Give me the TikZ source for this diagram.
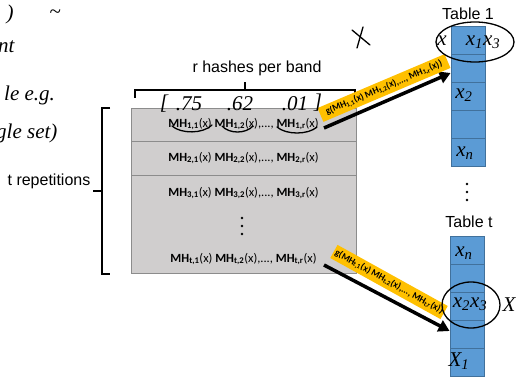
\documentclass[tikz,border=0pt]{standalone}
\usepackage{fontspec}
\setmainfont{Liberation Sans}
\newfontfamily\calibri{Carlito}
\newfontfamily\handfont{Liberation Serif}
\usetikzlibrary{arrows.meta}

\definecolor{bandgray}{HTML}{D0CECE}
\definecolor{bandedge}{HTML}{8C8C8C}
\definecolor{cellblue}{HTML}{5B9BD5}
\definecolor{celledge}{HTML}{41719C}
\definecolor{bannergold}{HTML}{FFC000}

% one min-hash term and one full band of r terms
\newcommand\mhterm[1]{\textbf{MH}\textsubscript{\textbf{#1}}(x)}
\newcommand\mhrow[1]{\mhterm{#1,1} \mhterm{#1,2},..., \mhterm{#1,r}}

\begin{document}
\begin{tikzpicture}[x=1pt,y=-1pt,
  band/.style={draw=bandedge, fill=bandgray, minimum width=225pt, inner sep=0pt, line width=0.8pt},
  cell/.style={draw=celledge, fill=cellblue, minimum width=34pt, minimum height=28pt, inner sep=0pt, line width=0.8pt},
  mh/.style={font=\calibri\fontsize{12.5}{14}\selectfont, inner sep=0pt},
  caption/.style={font=\fontsize{16}{18}\selectfont, inner sep=0pt},
  banner/.style={fill=bannergold, inner sep=1pt, minimum height=15pt,
    font=\calibri\fontsize{9.4}{10}\selectfont\bfseries},
  flow/.style={line width=3.5pt, -{Triangle[length=11pt,width=12pt]}},
  hand/.style={font=\handfont\itshape\fontsize{21}{22}\selectfont, inner sep=0pt},
  ink/.style={line width=1.3pt, line cap=round},
  brace/.style={line width=1.8pt},
  dot/.style={fill=black}]
\useasboundingbox (0,0) rectangle (517,377);

% the t bands of the signature matrix
\node[band, minimum height=33pt] (b1) at (243.5,124.5) {};
\node[band, minimum height=34pt] (b2) at (243.5,158) {};
\node[band, minimum height=98pt] (b3) at (243.5,224) {};
\node[mh] (r1) at (243.5,124) {\mhrow{1}};
\node[mh] (r2) at (243.5,158) {\mhrow{2}};
\node[mh] (r3) at (243.5,193) {\mhrow{3}};
\node[mh] (rt) at (243.5,259) {\mhrow{t}};
\fill[dot] (242,218) circle (1.4pt) (242,226) circle (1.4pt) (242,234) circle (1.4pt);

% braces and their labels
\draw[brace] (135,98) -- (135,90) -- (355,90) -- (355,98);
\draw[brace] (245,90) -- (245,82);
\node[caption] (rlab) at (257,68) {r hashes per band};
\draw[brace] (110,108) -- (102,108) -- (102,274) -- (110,274);
\draw[brace] (102,191) -- (93,191);
\node[caption] (tlab) at (49,181) {t repetitions};

% hash tables
\foreach \n/\y in {a/40,b/68,c/96,d/124,e/152}
  \node[cell] (t1\n) at (468,\y) {};
\foreach \n/\y in {a/250,b/278,c/306,d/334,e/362}
  \node[cell] (tt\n) at (467,\y) {};
\node[caption] (lab1) at (468,14) {Table 1};
\node[caption] (labt) at (469,222) {Table t};
\fill[dot] (467,184) circle (1.4pt) (467,192) circle (1.4pt) (467,200) circle (1.4pt);

% bands hashed into buckets
\coordinate (a1s) at (324,128);
\coordinate (a2s) at (324,265);
\draw[flow] (a1s) -- ([yshift=-5pt]t1b.west);
\draw[flow] (a2s) -- ([yshift=3pt]ttd.west);
\node[banner, rotate=23, minimum width=138pt] (g1) at (384,88)
  {g(\mhterm{1,1} \mhterm{1,2},..., \mhterm{1,r})};
\node[banner, rotate=-29, minimum width=126pt] (gt) at (389,282)
  {g(\mhterm{t,1} \mhterm{t,2},..., \mhterm{t,r})};

% pen notes
\node[hand] (hb1) at (164,104) {[};
\node[hand] (hv1) at (189,104) {.75};
\node[hand] (hv2) at (240,104) {.62};
\node[hand] (hv3) at (295,104) {.01};
\node[hand] (hb2) at (318,103) {]};
\draw[ink] (172,126) .. controls (181,134) and (203,134) .. (212,125);
\draw[ink] (222,126) .. controls (229,134) and (246,134) .. (253,126);
\draw[ink] (277,127) .. controls (286,135) and (308,135) .. (317,127);
\draw[ink] (352,30) -- (370,45);
\draw[ink] (363,27) -- (357,48);

\node[hand] (h1a) at (442,41) {x};
\node[hand] (h1b) at (483,42) {x\textsubscript{1}x\textsubscript{3}};
\draw[ink] (475,42) ellipse [x radius=39pt, y radius=20pt];
\node[hand] (h1c) at (464,95) {x\textsubscript{2}};
\node[hand] (h1d) at (465,153) {x\textsubscript{n}};

\node[hand] (hta) at (464,253) {x\textsubscript{n}};
\node[hand] (htc) at (470,304) {x\textsubscript{2}x\textsubscript{3}};
\draw[ink] (471,305) ellipse [x radius=29pt, y radius=23pt];
\node[hand] (htx) at (509,305) {X};
\node[hand] (hte) at (459,361) {X\textsubscript{1}};

% notes running off the left edge
\node[hand] (n0) at (10,14) {)};
\node[hand] (n1) at (55,14) {\textasciitilde};
\node[hand, anchor=west] (n2) at (-2,47) {nt};
\node[hand, anchor=west] (n3) at (4,95) {le e.g.};
\node[hand, anchor=west] (n4) at (-4,133) {gle set)};
\end{tikzpicture}
\end{document}
